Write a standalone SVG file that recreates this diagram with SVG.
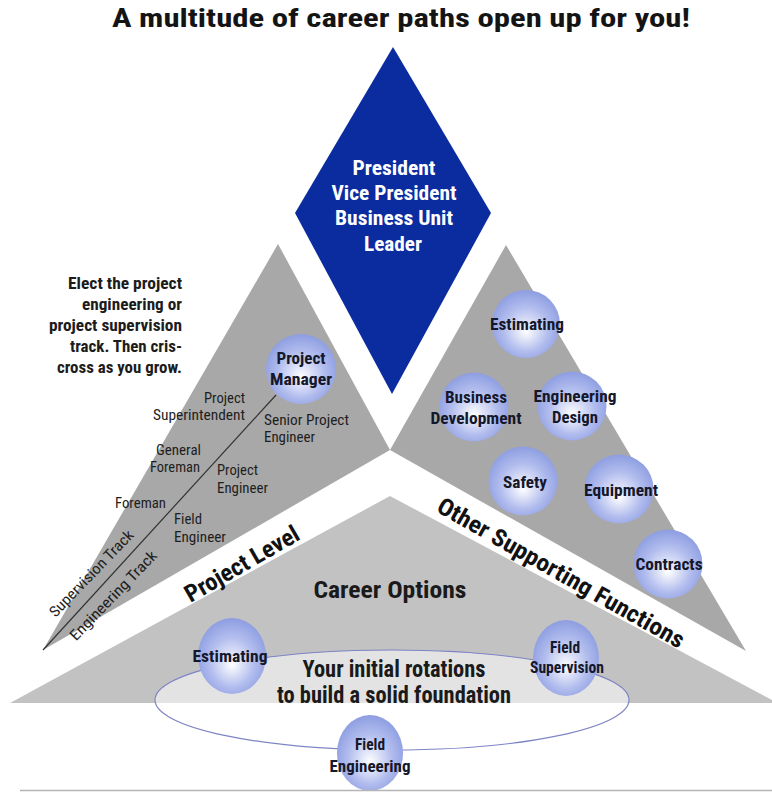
<svg xmlns="http://www.w3.org/2000/svg" width="772" height="792" viewBox="0 0 772 792">
  <defs>
    <radialGradient id="orb" cx="0.5" cy="0.55" r="0.55" fx="0.5" fy="0.62">
      <stop offset="0" stop-color="#ffffff"/>
      <stop offset="0.22" stop-color="#e2e6f8"/>
      <stop offset="0.6" stop-color="#b2bdee"/>
      <stop offset="1" stop-color="#8d9de1"/>
    </radialGradient>
    <style>
      text { font-family: "Liberation Sans Narrow", "Roboto Condensed", "DejaVu Sans Condensed", "Liberation Sans", Arial, sans-serif; font-stretch: condensed; }
      .title { font-size: 25px; font-weight: bold; fill: #141414; }
      .lead { font-size: 21px; font-weight: bold; fill: #ffffff; text-anchor: middle; }
      .note { font-size: 17px; font-weight: bold; fill: #1c1c1c; text-anchor: end; }
      .role { font-size: 15px; fill: #1e1e1e; }
      .orbtxt { font-size: 17px; font-weight: bold; fill: #15172a; text-anchor: middle; }
      .band { font-size: 24px; font-weight: bold; fill: #111111; text-anchor: middle; }
      .big { font-size: 23px; font-weight: bold; fill: #1a1a1a; text-anchor: middle; }
      .orb { fill: url(#orb); }
      .tri { fill: #a8a8a8; }
    </style>
  </defs>

  <rect width="772" height="792" fill="#ffffff"/>

  <!-- title -->
  <text class="title" x="401" y="27" text-anchor="middle" textLength="578" lengthAdjust="spacingAndGlyphs">A multitude of career paths open up for you!</text>

  <!-- base level: career options -->
  <g id="career-options">
    <polygon points="390,496 772,700 772,703 10,703" fill="#c2c2c2"/>
    <text class="big" x="390" y="598" textLength="153" lengthAdjust="spacingAndGlyphs">Career Options</text>
  </g>

  <!-- project level triangle -->
  <g id="project-level">
    <polygon class="tri" points="278,244 390,450 43,650"/>
  </g>

  <!-- supporting functions triangle -->
  <g id="supporting-functions">
    <polygon class="tri" points="506,245 746,651 390,450"/>
  </g>

  <!-- leadership diamond -->
  <g id="leadership">
    <polygon points="393,47 491,213 392,394 295,213" fill="#0b2c9f"/>
    <text class="lead" x="394" y="175" textLength="83" lengthAdjust="spacingAndGlyphs">President</text>
    <text class="lead" x="394" y="200" textLength="125" lengthAdjust="spacingAndGlyphs">Vice President</text>
    <text class="lead" x="394" y="225" textLength="118" lengthAdjust="spacingAndGlyphs">Business Unit</text>
    <text class="lead" x="393" y="251" textLength="58" lengthAdjust="spacingAndGlyphs">Leader</text>
  </g>

  <!-- connectors -->
  <g id="connectors">
    <line x1="276" y1="395" x2="43" y2="650" stroke="#333333" stroke-width="1.2"/>
  </g>

  <!-- track guidance -->
  <g id="track-note">
    <text class="note" x="182" y="289" textLength="114" lengthAdjust="spacingAndGlyphs">Elect the project</text>
    <text class="note" x="182" y="310" textLength="100" lengthAdjust="spacingAndGlyphs">engineering or</text>
    <text class="note" x="182" y="331" textLength="133" lengthAdjust="spacingAndGlyphs">project supervision</text>
    <text class="note" x="182" y="352" textLength="112" lengthAdjust="spacingAndGlyphs">track. Then cris-</text>
    <text class="note" x="182" y="373" textLength="125" lengthAdjust="spacingAndGlyphs">cross as you grow.</text>
  </g>

  <!-- supervision track roles -->
  <g id="supervision-roles">
    <text class="role" x="245" y="403" text-anchor="end" textLength="41" lengthAdjust="spacingAndGlyphs">Project</text>
    <text class="role" x="245" y="420" text-anchor="end" textLength="92" lengthAdjust="spacingAndGlyphs">Superintendent</text>
    <text class="role" x="201" y="455" text-anchor="end" textLength="45" lengthAdjust="spacingAndGlyphs">General</text>
    <text class="role" x="200" y="472" text-anchor="end" textLength="50" lengthAdjust="spacingAndGlyphs">Foreman</text>
    <text class="role" x="166" y="508" text-anchor="end" textLength="51" lengthAdjust="spacingAndGlyphs">Foreman</text>
  </g>

  <!-- engineering track roles -->
  <g id="engineering-roles">
    <text class="role" x="264" y="425" textLength="85" lengthAdjust="spacingAndGlyphs">Senior  Project</text>
    <text class="role" x="264" y="442" textLength="51" lengthAdjust="spacingAndGlyphs">Engineer</text>
    <text class="role" x="217" y="475" textLength="41" lengthAdjust="spacingAndGlyphs">Project</text>
    <text class="role" x="217" y="493" textLength="51" lengthAdjust="spacingAndGlyphs">Engineer</text>
    <text class="role" x="174" y="524" textLength="28" lengthAdjust="spacingAndGlyphs">Field</text>
    <text class="role" x="174" y="542" textLength="52" lengthAdjust="spacingAndGlyphs">Engineer</text>
  </g>

  <!-- track names along the diagonal -->
  <g id="track-names">
    <text class="role" transform="translate(95,577) rotate(-46)" x="0" y="0" text-anchor="middle" textLength="114" lengthAdjust="spacingAndGlyphs">Supervision Track</text>
    <text class="role" transform="translate(117,599) rotate(-46)" x="0" y="0" text-anchor="middle" textLength="118" lengthAdjust="spacingAndGlyphs">Engineering Track</text>
  </g>

  <!-- band labels -->
  <g id="band-labels">
    <text class="band" transform="translate(246,571) rotate(-30)" x="0" y="0" textLength="128" lengthAdjust="spacingAndGlyphs">Project Level</text>
    <text class="band" transform="translate(557,580) rotate(29.5)" x="0" y="0" textLength="280" lengthAdjust="spacingAndGlyphs">Other Supporting Functions</text>
  </g>

  <!-- project manager -->
  <g id="project-manager">
    <circle class="orb" cx="301" cy="369" r="35"/>
    <text class="orbtxt" x="301" y="364" textLength="49" lengthAdjust="spacingAndGlyphs">Project</text>
    <text class="orbtxt" x="301" y="385" textLength="62" lengthAdjust="spacingAndGlyphs">Manager</text>
  </g>

  <!-- supporting functions -->
  <g id="estimating-support">
    <circle class="orb" cx="526" cy="324" r="34"/>
    <text class="orbtxt" x="527" y="330" textLength="74" lengthAdjust="spacingAndGlyphs">Estimating</text>
  </g>
  <g id="business-development">
    <circle class="orb" cx="474" cy="407" r="34.5"/>
    <text class="orbtxt" x="476" y="403" textLength="62" lengthAdjust="spacingAndGlyphs">Business</text>
    <text class="orbtxt" x="476" y="424" textLength="91" lengthAdjust="spacingAndGlyphs">Development</text>
  </g>
  <g id="engineering-design">
    <circle class="orb" cx="572" cy="406" r="34.5"/>
    <text class="orbtxt" x="575" y="402" textLength="83" lengthAdjust="spacingAndGlyphs">Engineering</text>
    <text class="orbtxt" x="575" y="423" textLength="46" lengthAdjust="spacingAndGlyphs">Design</text>
  </g>
  <g id="safety">
    <circle class="orb" cx="523" cy="481" r="34.5"/>
    <text class="orbtxt" x="525" y="488" textLength="44" lengthAdjust="spacingAndGlyphs">Safety</text>
  </g>
  <g id="equipment">
    <circle class="orb" cx="619" cy="489" r="34.5"/>
    <text class="orbtxt" x="621" y="496" textLength="74" lengthAdjust="spacingAndGlyphs">Equipment</text>
  </g>
  <g id="contracts">
    <circle class="orb" cx="668" cy="564" r="34.5"/>
    <text class="orbtxt" x="669" y="570" textLength="67" lengthAdjust="spacingAndGlyphs">Contracts</text>
  </g>

  <!-- initial rotations -->
  <g id="initial-rotations">
    <ellipse cx="392" cy="700" rx="237" ry="50" fill="#ffffff" fill-opacity="0.55" stroke="#7d84c4" stroke-width="1.2"/>
    <text class="big" x="394" y="677" font-size="21" textLength="183" lengthAdjust="spacingAndGlyphs">Your initial rotations</text>
    <text class="big" x="394" y="703" font-size="21" textLength="234" lengthAdjust="spacingAndGlyphs">to build a solid foundation</text>
  </g>
  <g id="estimating-rotation">
    <ellipse class="orb" cx="232" cy="656" rx="34" ry="38"/>
    <text class="orbtxt" x="230" y="662" textLength="75" lengthAdjust="spacingAndGlyphs">Estimating</text>
  </g>
  <g id="field-supervision">
    <ellipse class="orb" cx="566" cy="658" rx="33" ry="38"/>
    <text class="orbtxt" x="565" y="653" textLength="30" lengthAdjust="spacingAndGlyphs">Field</text>
    <text class="orbtxt" x="567" y="673" textLength="74" lengthAdjust="spacingAndGlyphs">Supervision</text>
  </g>
  <g id="field-engineering">
    <ellipse class="orb" cx="370" cy="753" rx="33" ry="38"/>
    <text class="orbtxt" x="370" y="750" textLength="30" lengthAdjust="spacingAndGlyphs">Field</text>
    <text class="orbtxt" x="370" y="772" textLength="81" lengthAdjust="spacingAndGlyphs">Engineering</text>
  </g>

  <!-- footer rule -->
  <line x1="20" y1="790.5" x2="772" y2="790.5" stroke="#b4b4b4" stroke-width="1.5"/>
</svg>
